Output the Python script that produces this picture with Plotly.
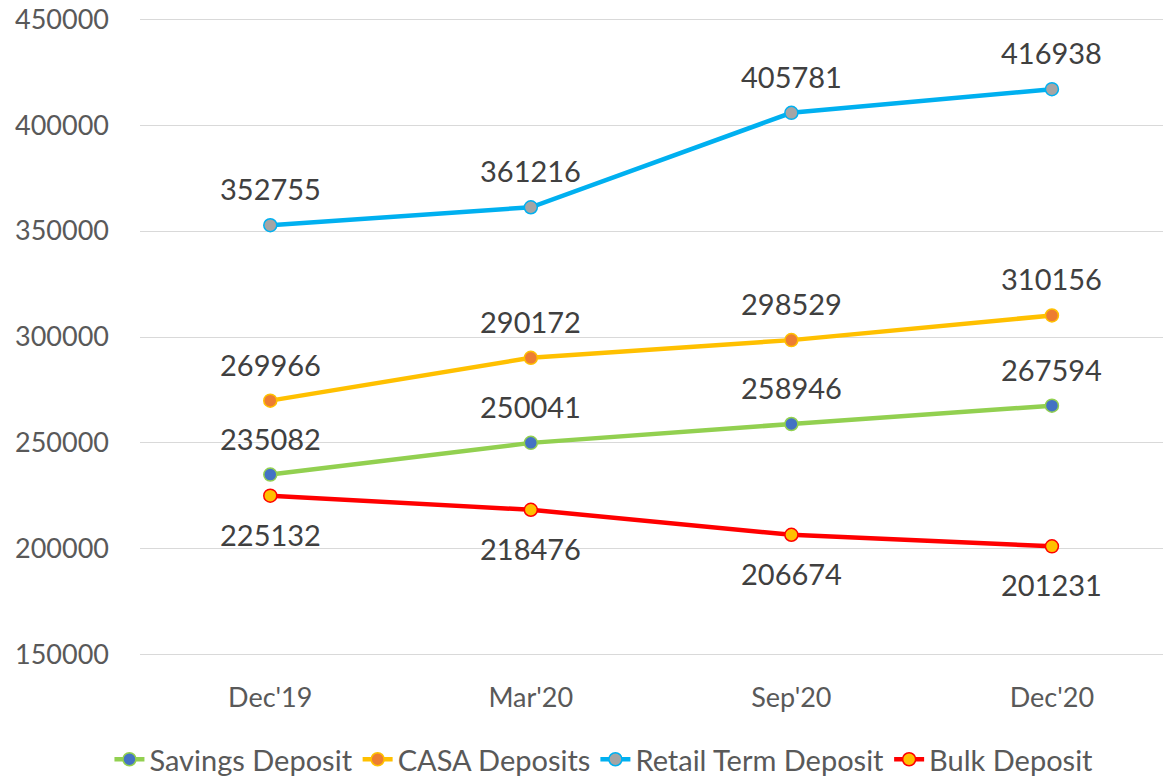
import plotly.graph_objects as go

categories = ["Dec'19", "Mar'20", "Sep'20", "Dec'20"]
savings = [235082, 250041, 258946, 267594]
casa = [269966, 290172, 298529, 310156]
retail = [352755, 361216, 405781, 416938]
bulk = [225132, 218476, 206674, 201231]
y_ticks = [150000, 200000, 250000, 300000, 350000, 400000, 450000]

FONT = "Lato"
TXT = "#404040"
AX = "#595959"
series = [
    ("Savings Deposit", savings, "#92D050", "#4472C4", "above"),
    ("CASA Deposits", casa, "#FFC000", "#ED7D31", "above"),
    ("Retail Term Deposit", retail, "#00B0F0", "#A5A5A5", "above"),
    ("Bulk Deposit", bulk, "#FF0000", "#FFC000", "below"),
]

fig = go.Figure()
xs = list(range(len(categories)))
for name, vals, lc, mc, pos in series:
    fig.add_trace(go.Scatter(
        x=xs, y=vals, name=name, mode="lines+markers",
        line=dict(color=lc, width=4.5),
        marker=dict(size=13, color=mc, line=dict(color=lc, width=1.5)),
    ))
    for xi, v in zip(xs, vals):
        fig.add_annotation(
            x=xi, y=v, text=str(v), showarrow=False,
            xanchor="center",
            yanchor="bottom" if pos == "above" else "top",
            yshift=17 if pos == "above" else -19,
            font=dict(family=FONT, size=29, color=TXT),
        )

fig.update_layout(
    width=1163, height=768,
    paper_bgcolor="white", plot_bgcolor="white",
    margin=dict(l=132, r=0, t=9, b=119, autoexpand=False),
    font=dict(family=FONT, size=27, color=AX),
    showlegend=True,
    legend=dict(orientation="h", x=0.45, xanchor="center", y=-0.16, yanchor="middle",
                font=dict(family=FONT, size=29, color=AX),
                itemwidth=30, tracegroupgap=0),
    xaxis=dict(tickmode="array", tickvals=xs, ticktext=categories,
               range=[-0.5, 3.457], showgrid=False, zeroline=False, showline=False,
               tickfont=dict(family=FONT, size=27, color=AX), ticks="",
               ticklabelstandoff=22),
    yaxis=dict(range=[149000, 451000], tickmode="array",
               tickvals=y_ticks, ticktext=[str(v) for v in y_ticks],
               ticklabeloverflow="allow",
               showgrid=True, gridcolor="#D9D9D9", gridwidth=1.3, zeroline=False,
               showline=False, ticks="", ticklabelstandoff=30,
               tickfont=dict(family=FONT, size=27, color=AX)),
)
fig.write_html("out.html")
